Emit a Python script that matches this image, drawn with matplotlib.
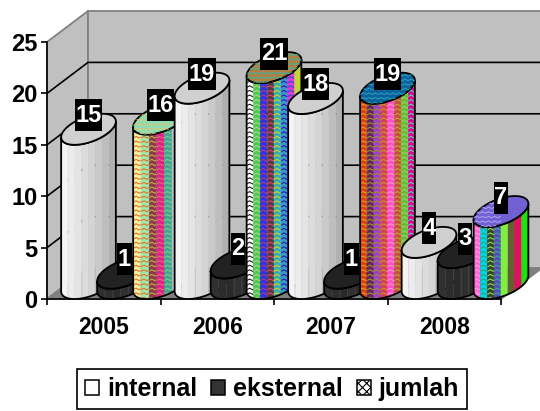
import numpy as np
import matplotlib
matplotlib.use("Agg")
import matplotlib.pyplot as plt
from matplotlib.patches import Polygon, Patch
from matplotlib.path import Path

plt.rcParams['font.family'] = ['Liberation Sans', 'DejaVu Sans']
plt.rcParams['font.weight'] = 'bold'
plt.rcParams['hatch.linewidth'] = 0.8

years = ['2005', '2006', '2007', '2008']
series_names = ['internal', 'eksternal', 'jumlah']
internal = [15, 19, 18, 4]
eksternal = [1, 2, 1, 3]
jumlah = [16, 21, 19, 7]
y_ticks = [0, 5, 10, 15, 20, 25]

# colours of the pattern strips: (fill, zigzag)
jumlah_strips = [
    [('#f4f0a0', '#e07030'), ('#a0e8a8', '#e07030'), ('#8b3a4a', '#c0b040'), ('#e0208c', '#e07070'),
     ('#40a888', '#70d0a0'), ('#b4c4e4', '#e8a0a0'), ('#a8d838', '#40c0a0')],
    [('#ffffff', '#202020'), ('#50c850', '#a0e080'), ('#3030e8', '#a04080'), ('#583838', '#e04080'),
     ('#30b0b0', '#e0d020'), ('#3898c8', '#2020c0'), ('#e038e0', '#3050c0'), ('#b8d840', '#e0d020')],
    [('#e04010', '#e0a020'), ('#602860', '#a09020'), ('#a040c8', '#a09020'), ('#d84048', '#d09030'),
     ('#ff50c8', '#ff90e0'), ('#c05040', '#d0a030'), ('#80c850', '#60b030'), ('#e000a0', '#50e0a0')],
    [('#ff68d8', '#ffa0e0'), ('#00d8d8', '#20a0a0'), ('#304830', '#a0d050'), ('#5050b8', '#40a0a0'),
     ('#80f040', '#c0ff80'), ('#606030', '#909050'), ('#e01060', '#901040'), ('#20e010', '#106010')],
]
jumlah_caps = [('#90dcb4', '#d8c870'), ('#b08040', '#40b0a0'), ('#1060a0', '#20a0b0'), ('#7060d4', '#a8a0f0')]
internal_strips = ['#f4f4f4', '#ececec', '#e4e4e4', '#dcdcdc', '#d4d4d4', '#cacaca', '#bebebe', '#b0b0b0']
eksternal_strips = ['#303030', '#2c2c2c', '#2a2a2a', '#303030', '#2a2a2a', '#262626', '#222222']

BLACK_LW = 1.3
W, H = 540, 411
fig = plt.figure(figsize=(5.4, 4.11), dpi=100, facecolor='white')
ax = fig.add_axes([47 / W, (H - 299) / H, 454 / W, 257 / H], facecolor='none')
ax.set_xlim(0, 4)
ax.set_ylim(0, 25)

# oblique depth of the box, in data units
DX, DY = 41 / 113.5, 31 / 10.28
# cylinder geometry, in data units
SER_STEP = 36 / 113.5
X_START = 41.5 / 113.5
A, B, C = 23.5 / 113.5, 14 / 113.5, 15.5 / 10.28


def wall(pts, fc, z):
    ax.add_patch(Polygon(pts, closed=True, fc=fc, ec='#808080', lw=1.3, zorder=z, clip_on=False))


wall([(0, 0), (DX, DY), (DX, 25 + DY), (0, 25)], '#c0c0c0', 1)
wall([(DX, DY), (4 + DX, DY), (4 + DX, 25 + DY), (DX, 25 + DY)], '#c0c0c0', 1)
wall([(0, 0), (4, 0), (4 + DX, DY), (DX, DY)], '#808080', 1)

for v in y_ticks[1:-1]:
    ax.plot([0, DX, 4 + DX], [v, v + DY, v + DY], color='black', lw=1.2, zorder=2, clip_on=False)


def ellipse(cx, y, t):
    return cx + A * np.cos(t) + B * np.sin(t), y + C + C * np.sin(t)


t_left = np.pi + np.arctan2(B, A)
t_right = 2 * np.pi + np.arctan2(B, A)
arc_t = np.linspace(t_left, t_right, 121)
ring_t = np.linspace(0, 2 * np.pi, 121)


def zigzag(x0, x1, y0, y1):
    px, py = 6 / 113.5, 4.6 / 10.28
    xs = np.arange(x0 - px, x1 + px, px / 2)
    ys_off = np.where(np.arange(len(xs)) % 2 == 0, 0, 1.6 / 10.28)
    out = []
    for r in np.arange(y0, y1, py):
        out.append(np.column_stack([xs, r + ys_off]))
        out.append(np.array([[np.nan, np.nan]]))
    return np.vstack(out)


def cylinder(cx, value, strips, cap, z):
    ax_, ay_ = ellipse(cx, 0, arc_t)
    span = np.linspace(ax_[0], ax_[-1], len(strips) + 1)
    for i, s in enumerate(strips):
        fc, zc = (s, None) if isinstance(s, str) else s
        m = (ax_ >= span[i] - 1e-9) & (ax_ <= span[i + 1] + 1e-9)
        xs, ys = ax_[m], ay_[m]
        pts = np.vstack([np.column_stack([xs, ys]), np.column_stack([xs[::-1], ys[::-1] + value])])
        poly = Polygon(pts, closed=True, fc=fc, ec=fc, lw=0.4, zorder=z, clip_on=False)
        ax.add_patch(poly)
        if zc:
            zz = zigzag(span[i], span[i + 1], 0, value + 2 * C)
            ln, = ax.plot(zz[:, 0], zz[:, 1], color=zc, lw=0.8, zorder=z, clip_on=False)
            ln.set_clip_path(poly)
            ln.set_clip_on(True)
    ox = np.concatenate([ax_, ax_[::-1]])
    oy = np.concatenate([ay_, ay_[::-1] + value])
    ax.add_patch(Polygon(np.column_stack([ox, oy]), closed=True, fc='none', ec='black',
                         lw=BLACK_LW, zorder=z, clip_on=False))
    rx, ry = ellipse(cx, value, ring_t)
    capfc, capzz = (cap, None) if isinstance(cap, str) else cap
    cp = Polygon(np.column_stack([rx, ry]), closed=True, fc=capfc, ec='black', lw=BLACK_LW,
                 zorder=z, clip_on=False)
    ax.add_patch(cp)
    if capzz:
        zz = zigzag(rx.min(), rx.max(), value, value + 2 * C)
        ln, = ax.plot(zz[:, 0], zz[:, 1], color=capzz, lw=0.8, zorder=z, clip_on=False)
        ln.set_clip_path(cp)
        ln.set_clip_on(True)


def tall_box(x0, y0, width, height, mutation_size):
    """Black label plate: slightly wider than the digits, much taller."""
    hp = 0.5
    cy = y0 + height / 2
    half = 16.0
    xa, xb = x0 - hp, x0 + width + hp
    return Path([(xa, cy - half), (xb, cy - half), (xb, cy + half), (xa, cy + half), (xa, cy - half)],
                closed=True)


z = 3
for c in range(len(years)):
    groups = [
        (internal[c], internal_strips, '#d0d0d0'),
        (eksternal[c], eksternal_strips, '#222222'),
        (jumlah[c], jumlah_strips[c], jumlah_caps[c]),
    ]
    for s, (val, strips, cap) in enumerate(groups):
        cx = c + X_START + s * SER_STEP
        cylinder(cx, val, strips, cap, z)
        z += 1
        ax.text(cx, val + 2.87, str(val), ha='center', va='center', color='white', fontsize=17,
                fontweight='bold', zorder=100, clip_on=False,
                bbox=dict(boxstyle=tall_box, fc='black', ec='black', lw=0))

for sp in ['top', 'right']:
    ax.spines[sp].set_visible(False)
for sp in ['left', 'bottom']:
    ax.spines[sp].set_linewidth(1.2)
    ax.spines[sp].set_zorder(2.5)

ax.set_yticks(y_ticks)
ax.set_xticks(range(len(years) + 1))
ax.set_xticklabels([])
ax.set_xticks(np.arange(len(years)) + 0.5, minor=True)
ax.set_xticklabels(years, minor=True)
ax.tick_params(axis='x', which='major', length=4, width=1.2)
ax.tick_params(axis='x', which='minor', length=0, pad=12, labelsize=16.5)
ax.tick_params(axis='y', length=4, width=1.2, pad=3, labelsize=17)

handles = [
    Patch(fc='white', ec='black', lw=1.1),
    Patch(fc='#333333', ec='black', lw=1.1),
    Patch(fc='white', ec='black', lw=1.1, hatch='xxxx'),
]
leg = ax.legend(handles, series_names, loc='center', ncol=3,
                bbox_to_anchor=(272 / W, (H - 389) / H), bbox_transform=fig.transFigure,
                fontsize=18, frameon=True, fancybox=False, framealpha=1, edgecolor='black',
                handlelength=0.56, handleheight=0.56, handletextpad=0.32, columnspacing=0.55,
                borderpad=0.32, borderaxespad=0)
leg.get_frame().set_linewidth(1.2)

fig.savefig('out.png', dpi=100, facecolor='white')
